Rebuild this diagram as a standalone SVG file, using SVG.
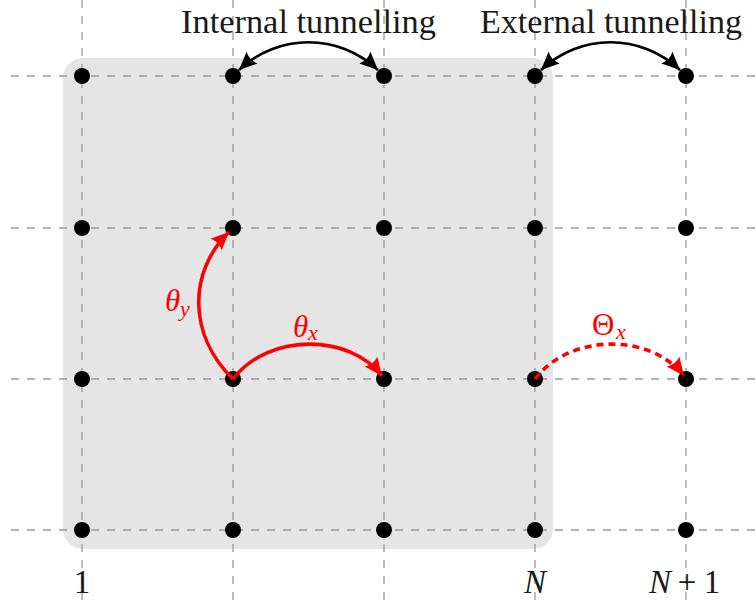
<svg xmlns="http://www.w3.org/2000/svg" width="755" height="608" viewBox="0 0 755 608">
<style>
.grid{stroke:#999;stroke-width:1.3;stroke-dasharray:8 8;fill:none}
.dot{fill:#000}
.blk{stroke:#000;stroke-width:2.6;fill:none}
.red{stroke:#f00;stroke-width:3.6;fill:none}
.dash{stroke-dasharray:7 5}
.t{font-family:"Liberation Serif","DejaVu Serif",serif;fill:#1a1a1a}
.m{font-family:"Liberation Serif","DejaVu Serif",serif;font-style:italic;fill:#1a1a1a}
.r{fill:#f00}
</style>
<defs>
<marker id="ab" markerUnits="userSpaceOnUse" markerWidth="22" markerHeight="18" refX="18" refY="8" orient="auto-start-reverse" overflow="visible">
<path d="M0,0 L18,8 L0,16 Q4,8 0,0 z" fill="#000"/>
</marker>
<marker id="ar" markerUnits="userSpaceOnUse" markerWidth="22" markerHeight="18" refX="18" refY="8" orient="auto" overflow="visible">
<path d="M0,0 L18,8 L0,16 Q4,8 0,0 z" fill="#f00"/>
</marker>
</defs>
<rect id="region" x="63" y="58" width="490" height="491" rx="20" fill="#e5e5e5"/>
<g id="grid">
<line class="grid" x1="82" y1="0" x2="82" y2="608"/>
<line class="grid" x1="233" y1="0" x2="233" y2="608"/>
<line class="grid" x1="384" y1="0" x2="384" y2="608"/>
<line class="grid" x1="535" y1="0" x2="535" y2="608"/>
<line class="grid" x1="686" y1="0" x2="686" y2="608"/>
<line class="grid" x1="11" y1="76" x2="755" y2="76"/>
<line class="grid" x1="11" y1="228" x2="755" y2="228"/>
<line class="grid" x1="11" y1="379" x2="755" y2="379"/>
<line class="grid" x1="11" y1="530" x2="755" y2="530"/>
</g>
<g id="nodes">
<g id="n1-1"><circle class="dot" cx="82" cy="76" r="8"/></g>
<g id="n2-1"><circle class="dot" cx="233" cy="76" r="8"/></g>
<g id="n3-1"><circle class="dot" cx="384" cy="76" r="8"/></g>
<g id="n4-1"><circle class="dot" cx="535" cy="76" r="8"/></g>
<g id="n5-1"><circle class="dot" cx="686" cy="76" r="8"/></g>
<g id="n1-2"><circle class="dot" cx="82" cy="228" r="8"/></g>
<g id="n2-2"><circle class="dot" cx="233" cy="228" r="8"/></g>
<g id="n3-2"><circle class="dot" cx="384" cy="228" r="8"/></g>
<g id="n4-2"><circle class="dot" cx="535" cy="228" r="8"/></g>
<g id="n5-2"><circle class="dot" cx="686" cy="228" r="8"/></g>
<g id="n1-3"><circle class="dot" cx="82" cy="379" r="8"/></g>
<g id="n2-3"><circle class="dot" cx="233" cy="379" r="8"/></g>
<g id="n3-3"><circle class="dot" cx="384" cy="379" r="8"/></g>
<g id="n4-3"><circle class="dot" cx="535" cy="379" r="8"/></g>
<g id="n5-3"><circle class="dot" cx="686" cy="379" r="8"/></g>
<g id="n1-4"><circle class="dot" cx="82" cy="530" r="8"/></g>
<g id="n2-4"><circle class="dot" cx="233" cy="530" r="8"/></g>
<g id="n3-4"><circle class="dot" cx="384" cy="530" r="8"/></g>
<g id="n4-4"><circle class="dot" cx="535" cy="530" r="8"/></g>
<g id="n5-4"><circle class="dot" cx="686" cy="530" r="8"/></g>
</g>
<g id="connectors">
<path id="internal" class="blk" d="M239,70 C278,33 339,33 378,70" marker-start="url(#ab)" marker-end="url(#ab)"/>
<path id="external" class="blk" d="M541,70 C580,33 641,33 680,70" marker-start="url(#ab)" marker-end="url(#ab)"/>
<path id="thetay" class="red" d="M233,379 C188,335 188,272 229,232" marker-end="url(#ar)"/>
<path id="thetax" class="red" d="M233,379 C268,333 349,333 382,376" marker-end="url(#ar)"/>
<path id="Thetax" class="red dash" d="M535,379 C570,333 651,333 684,376" marker-end="url(#ar)"/>
</g>
<g id="labels">
<text class="t" x="308.5" y="33" font-size="33" text-anchor="middle" textLength="255" lengthAdjust="spacingAndGlyphs">Internal tunnelling</text>
<text class="t" x="611" y="33" font-size="33" text-anchor="middle" textLength="262" lengthAdjust="spacingAndGlyphs">External tunnelling</text>
<text class="m r" x="165" y="311" font-size="31">θ</text>
<text class="m r" x="180" y="316" font-size="22">y</text>
<text class="m r" x="293" y="337" font-size="31">θ</text>
<text class="m r" x="308" y="340" font-size="22">x</text>
<text class="t r" x="592" y="335" font-size="31">Θ</text>
<text class="m r" x="616" y="339" font-size="22">x</text>
<text class="t" x="82" y="593" font-size="33" text-anchor="middle">1</text>
<text class="m" x="535" y="593" font-size="33" text-anchor="middle">N</text>
<text class="m" x="660" y="593" font-size="33" text-anchor="middle">N</text>
<text class="t" x="687" y="593" font-size="33" text-anchor="middle">+</text>
<text class="t" x="712" y="593" font-size="33" text-anchor="middle">1</text>
</g>
</svg>
